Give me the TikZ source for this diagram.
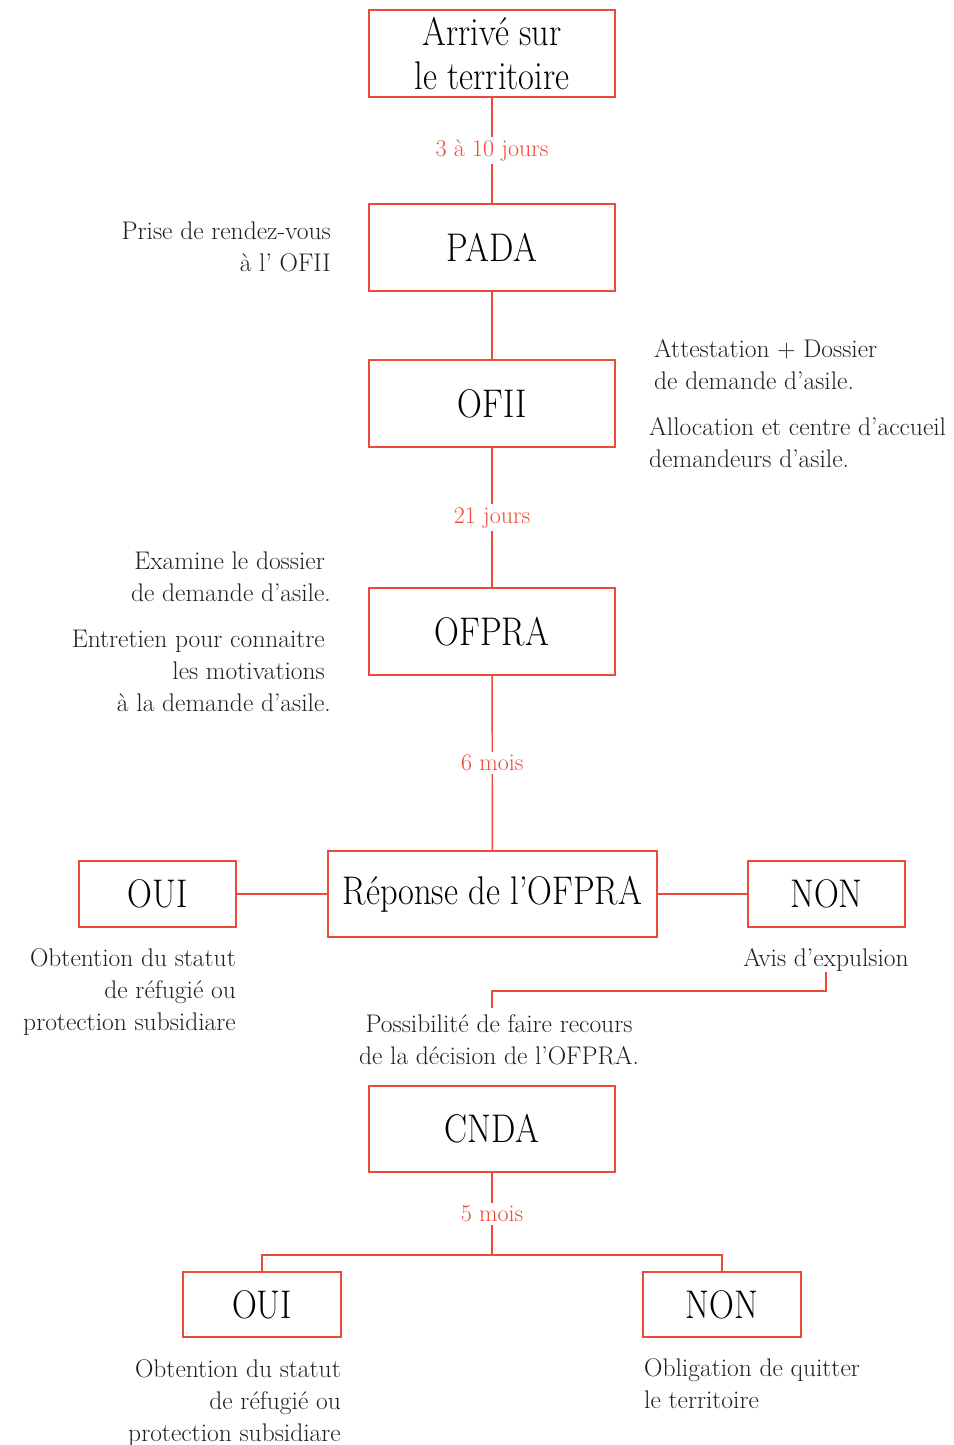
\documentclass[tikz,border=0pt]{standalone}
\usepackage{fontspec}
\newfontfamily\titlefont[FakeStretch=0.86]{Latin Modern Roman}
\definecolor{rd}{RGB}{234,76,56}
\definecolor{tx}{RGB}{35,31,32}
\begin{document}
\begin{tikzpicture}[x=1pt,y=-1pt,
  box/.style={draw=rd,line width=1.4pt,inner sep=0pt,text=black,font=\titlefont\fontsize{40}{44}\selectfont,align=center},
  bigbox/.style={box,minimum width=246pt,minimum height=87pt},
  smallbox/.style={box,minimum width=157pt,minimum height=66pt},
  conn/.style={draw=rd,line width=1.4pt},
  lbl/.style={fill=white,text=rd,font=\fontsize{24}{30}\selectfont,inner sep=3pt},
  note/.style={text=tx,font=\fontsize{25.5}{32}\selectfont,inner sep=0pt},
]
\useasboundingbox (0,0) rectangle (953,1445);
\fill[white] (0,0) rectangle (953,1445);
% boxes
\node[bigbox] (arr) at (492,53.5) {Arrivé sur\\le territoire};
\node[bigbox] (pada) at (492,247.5) {PADA};
\node[bigbox] (ofii) at (492,403.5) {OFII};
\node[bigbox] (ofpra) at (492,631.5) {OFPRA};
\node[box,minimum width=329pt,minimum height=86pt] (rep) at (492.5,894) {Réponse de l’OFPRA};
\node[smallbox] (oui1) at (157.5,894) {OUI};
\node[smallbox] (non1) at (826.5,894) {NON};
\node[bigbox,minimum height=86pt] (cnda) at (492,1129) {CNDA};
\node[smallbox,minimum width=158pt,minimum height=65pt] (oui2) at (262,1304.5) {OUI};
\node[smallbox,minimum width=158pt,minimum height=65pt] (non2) at (722,1304.5) {NON};
% connectors
\draw[conn] (arr) -- node[lbl] {3 à 10 jours} (pada);
\draw[conn] (pada) -- (ofii);
\draw[conn] (ofii) -- node[lbl] {21 jours} (ofpra);
\draw[conn] (ofpra) -- node[lbl] {6 mois} (rep);
\draw[conn] (rep) -- (oui1);
\draw[conn] (rep) -- (non1);
\coordinate (br) at (492,1255);
\draw[conn] (cnda) -- node[lbl] {5 mois} (br);
\draw[conn] (oui2.north) |- (br) -| (non2.north);
\coordinate (a1) at (826,972);
\coordinate (a2) at (826,991);
\coordinate (poss) at (492,1008);
\draw[conn] (a1) -- (a2) -| (poss);
% notes (base anchor = baseline of last line)
\node[note,align=right,anchor=base east] (n1) at (331,271) {Prise de rendez-vous\\à l’ OFII};
\node[note,align=left,anchor=base west] (n2) at (654,389) {Attestation + Dossier\\de demande d’asile.};
\node[note,align=left,anchor=base west] (n3) at (649,467) {Allocation et centre d’accueil\\demandeurs d’asile.};
\node[note,align=right,anchor=base east] (n4) at (331,601) {Examine le dossier\kern6pt\\de demande d’asile.};
\node[note,align=right,anchor=base east] (n5) at (331,711) {Entretien pour connaitre\kern6pt\\les motivations\kern6pt\\à la demande d’asile.};
\node[note,align=right,anchor=base east] (n6) at (236,1030) {Obtention du statut\\de réfugié ou\\protection subsidiare};
\node[note,anchor=base] (n7) at (826,966) {Avis d’expulsion};
\node[note,align=center,anchor=base] (n8) at (499,1064) {Possibilité de faire recours\\de la décision de l’OFPRA.};
\node[note,align=right,anchor=base east] (n9) at (341,1441) {Obtention du statut\\de réfugié ou\\protection subsidiare};
\node[note,align=left,anchor=base west] (n10) at (644,1408) {Obligation de quitter\\le territoire};
\end{tikzpicture}
\end{document}
